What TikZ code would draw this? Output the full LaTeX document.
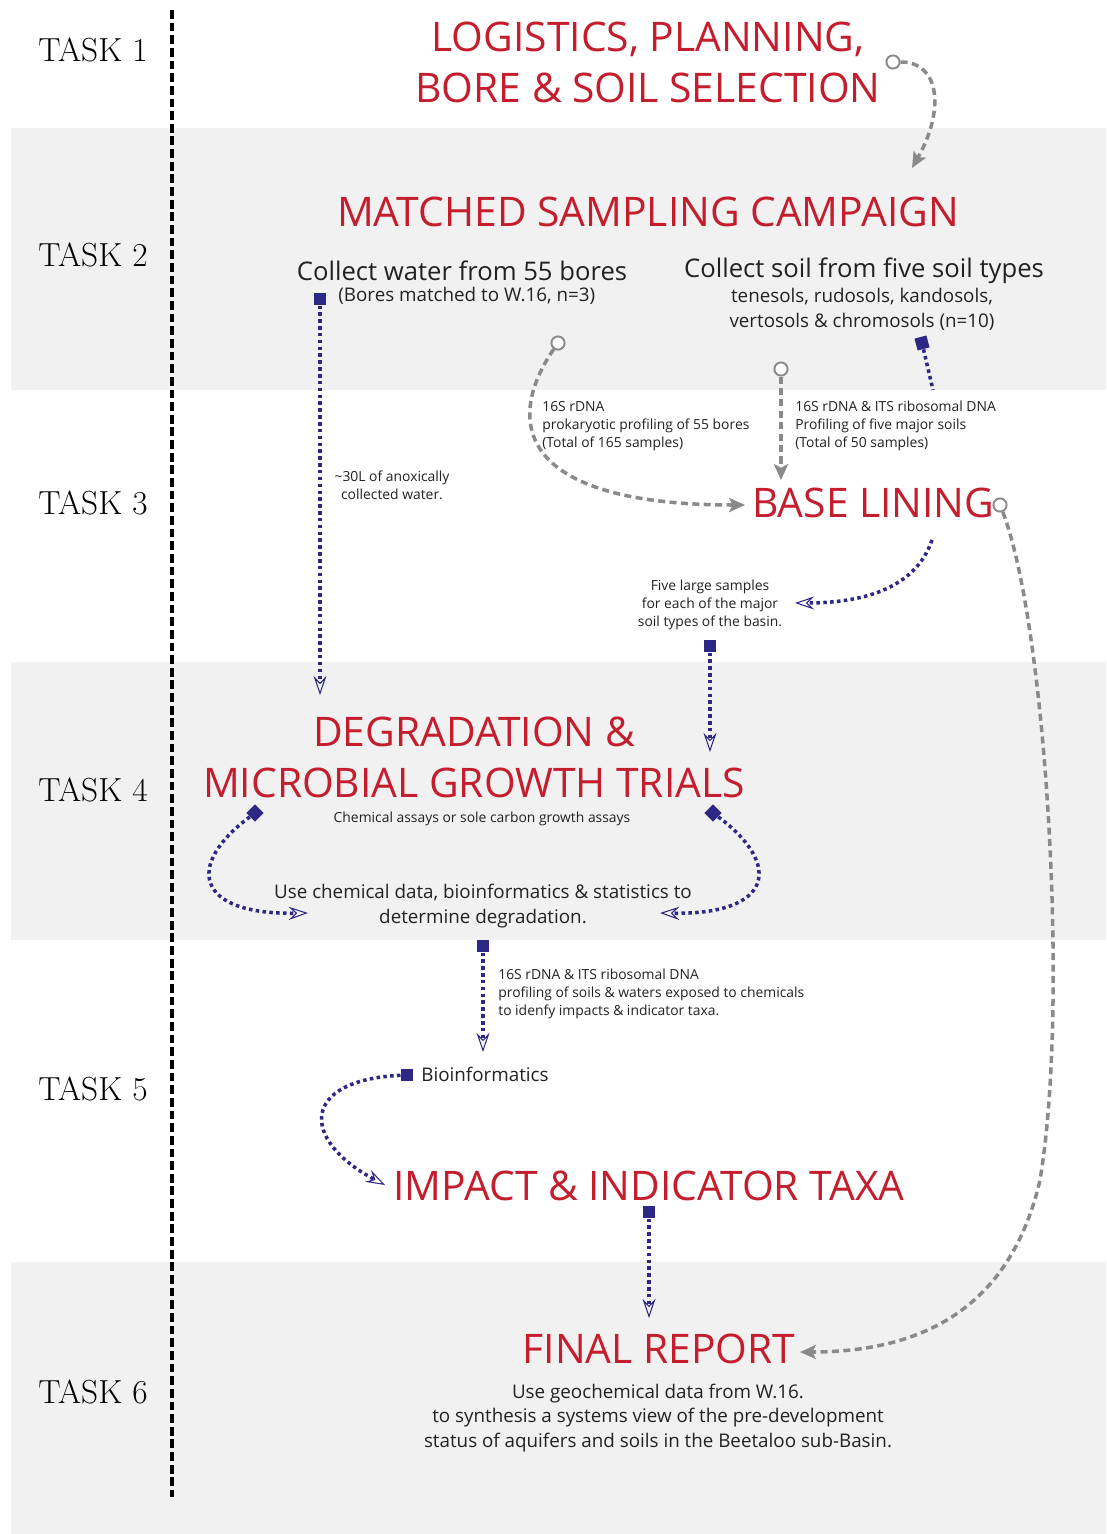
\documentclass[tikz,border=0pt]{standalone}
\usepackage{fontspec}
\setsansfont{Open Sans}
\usetikzlibrary{arrows.meta,shapes.geometric}

\definecolor{titlered}{HTML}{C41E2E}
\definecolor{navy}{HTML}{2D2883}
\definecolor{arrgray}{HTML}{8A8A8A}
\definecolor{band}{HTML}{F1F1F1}
\definecolor{txt}{HTML}{222222}

\tikzset{
  head/.style={text=titlered, font=\sffamily\fontsize{23.2}{29}\selectfont, align=center, inner sep=0pt},
  tasklbl/.style={font=\fontsize{19}{21}\selectfont, inner sep=0pt},
  mid/.style={text=txt, font=\sffamily\fontsize{14.6}{16}\selectfont, align=center, inner sep=0pt},
  body/.style={text=txt, font=\sffamily\fontsize{10.7}{14.2}\selectfont, align=center, inner sep=0pt},
  note/.style={text=txt, font=\sffamily\fontsize{7.9}{10.2}\selectfont, align=left, inner sep=0pt},
  sqm/.style={rectangle, fill=navy, minimum size=7pt, inner sep=0pt},
  dmm/.style={diamond, fill=navy, minimum size=10pt, inner sep=0pt},
  ring/.style={circle, draw=arrgray, line width=1.1pt, fill=white, minimum size=7.5pt, inner sep=0pt},
  navyflow/.style={draw=navy, line width=2pt, dash pattern=on 2pt off 1.9pt,
    -{Stealth[open, length=11pt, width=7.5pt, inset=4pt, line width=0.6pt]}},
  grayflow/.style={draw=arrgray, line width=2pt, dash pattern=on 4pt off 2.5pt,
    -{Stealth[length=9pt, width=8pt, inset=2pt]}},
}

\begin{document}
\begin{tikzpicture}[x=0.02cm, y=-0.02cm]
  \useasboundingbox (0,0) rectangle (1106,1534);
  \fill[white] (0,0) rectangle (1106,1534);

  % grey bands for tasks 2, 4 and 6
  \fill[band] (11,128) rectangle (1106,390);
  \fill[band] (11,662) rectangle (1106,940);
  \fill[band] (11,1262) rectangle (1106,1534);

  % timeline
  \draw[line width=2.2pt, dash pattern=on 5pt off 2.2pt] (172,10) -- (172,1497);

  \node[tasklbl] (t1) at (93,50) {TASK 1};
  \node[tasklbl] (t2) at (93,255) {TASK 2};
  \node[tasklbl] (t3) at (93,503) {TASK 3};
  \node[tasklbl] (t4) at (93,790) {TASK 4};
  \node[tasklbl] (t5) at (93,1089) {TASK 5};
  \node[tasklbl] (t6) at (93,1392) {TASK 6};

  % task 1
  \node[head] (logi) at (648,62) {LOGISTICS, PLANNING,\\BORE \& SOIL SELECTION};
  \node[ring] (r1) at (893,62) {};
  \coordinate (e1) at (912,168);
  \draw[grayflow] (r1) .. controls (940,62) and (945,110) .. (e1);

  % task 2
  \node[head] (camp) at (648,212) {MATCHED SAMPLING CAMPAIGN};
  \node[mid] (water) at (462,271) {Collect water from 55 bores};
  \node[body, anchor=west] (bores) at (338,296) {(Bores matched to W.16, n=3)};
  \node[sqm] (wsq) at (320,299) {};
  \node[mid] (soil) at (864,271) {Collect soil from five soil types};
  \node[body] (types) at (862,309) {tenesols, rudosols, kandosols,\\vertosols \& chromosols (n=10)};
  \node[sqm, rotate=15] (ssq) at (922,343) {};
  \coordinate (s1) at (933,390);
  \draw[navyflow, -] (ssq) -- (s1);
  \node[ring] (r2) at (558,343) {};
  \node[ring] (r3) at (781,369) {};

  % task 3
  \node[note, anchor=north west] (n16s) at (542,401) {16S rDNA\\prokaryotic profiling of 55 bores\\(Total of 165 samples)};
  \node[note, anchor=north west] (nits) at (795,401) {16S rDNA \& ITS ribosomal DNA\\Profiling of five major soils\\(Total of 50 samples)};
  \node[head, anchor=west] (base) at (752,503) {BASE LINING};
  \node[ring] (r4) at (1000,505) {};
  \coordinate (b1) at (745,505);
  \coordinate (b2) at (781,480);
  \draw[grayflow] (r2) .. controls (505,420) and (515,505) .. (b1);
  \draw[grayflow] (r3) -- (b2);

  \node[note, align=center] (anox) at (392,485) {\textasciitilde 30L of anoxically\\collected water.};
  \coordinate (w1) at (320,695);
  \draw[navyflow] (wsq) -- (w1);

  \coordinate (b3) at (932,540);
  \coordinate (f1) at (795,603);
  \draw[navyflow] (b3) .. controls (915,590) and (860,603) .. (f1);
  \node[note, align=center] (five) at (710,605) {Five large samples\\for each of the major\\soil types of the basin.};
  \node[sqm] (fsq) at (710,646) {};
  \coordinate (d0) at (710,752);
  \draw[navyflow] (fsq) -- (d0);

  % task 4
  \node[head] (deg) at (474,757) {DEGRADATION \&\\MICROBIAL GROWTH TRIALS};
  \node[note, align=center] (assay) at (482,819) {Chemical assays or sole carbon growth assays};
  \node[dmm] (dm1) at (255,813) {};
  \node[dmm] (dm2) at (713,813) {};
  \node[body] (chem) at (483,906) {Use chemical data, bioinformatics \& statistics to\\determine degradation.};
  \coordinate (c1) at (308,913);
  \coordinate (c2) at (660,913);
  \draw[navyflow] (dm1) .. controls (185,865) and (195,915) .. (c1);
  \draw[navyflow] (dm2) .. controls (783,865) and (773,915) .. (c2);
  \node[sqm] (csq) at (483,946) {};
  \coordinate (g1) at (483,1052);
  \draw[navyflow] (csq) -- (g1);

  % task 5
  \node[note, anchor=north west] (prof) at (498,969) {16S rDNA \& ITS ribosomal DNA\\profiling of soils \& waters exposed to chemicals\\to idenfy impacts \& indicator taxa.};
  \node[sqm] (bsq) at (407,1075) {};
  \node[body, anchor=west] (bio) at (421,1074) {Bioinformatics};
  \node[head] (impact) at (649,1186) {IMPACT \& INDICATOR TAXA};
  \coordinate (i1) at (385,1185);
  \draw[navyflow] (bsq) .. controls (300,1080) and (300,1140) .. (i1);
  \node[sqm] (isq) at (649,1212) {};
  \coordinate (fr1) at (649,1318);
  \draw[navyflow] (isq) -- (fr1);

  % task 6
  \node[head] (final) at (659,1349) {FINAL REPORT};
  \node[body] (synth) at (658,1418) {Use geochemical data from W.16.\\to synthesis a systems view of the pre-development\\status of aquifers and soils in the Beetaloo sub-Basin.};
  \coordinate (k1) at (1040,1180);
  \coordinate (k2) at (800,1352);
  \draw[grayflow] (r4) .. controls (1045,620) and (1070,1000) .. (k1)
    .. controls (1010,1310) and (920,1352) .. (k2);

\end{tikzpicture}
\end{document}
